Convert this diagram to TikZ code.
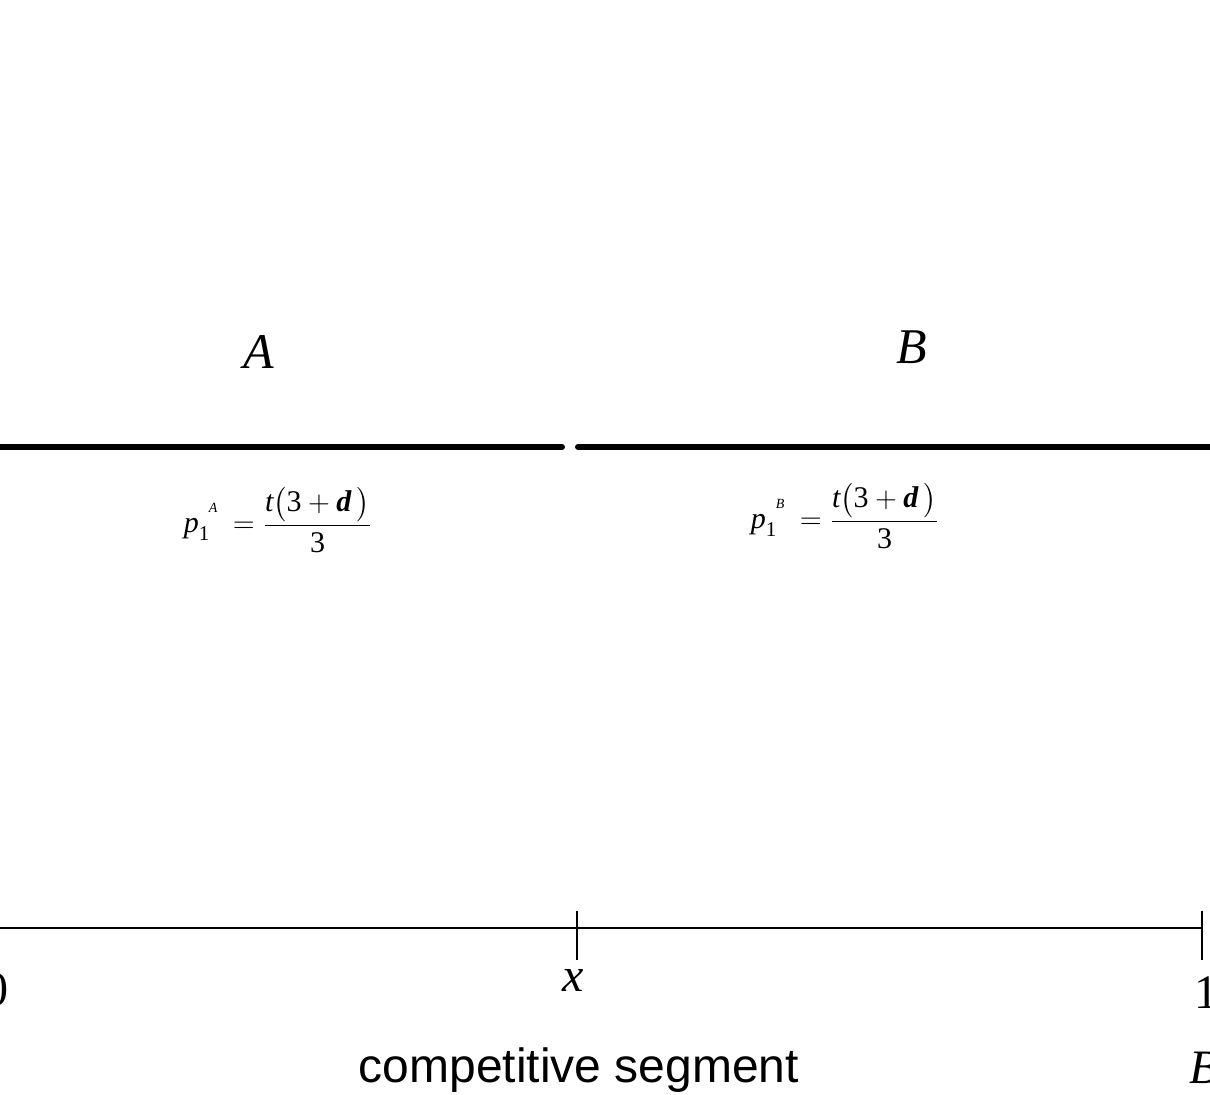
\documentclass[tikz,border=0pt]{standalone}
\usepackage{amsmath}
\usepackage{fontspec}
\setmainfont{Liberation Serif}
\setsansfont{Liberation Sans}
\tikzset{
  thick line/.style={line width=3pt, line cap=round},
  axis line/.style={line width=1pt},
  tick/.style={line width=1pt},
  biglabel/.style={font=\fontsize{25}{30}\selectfont\itshape, inner sep=0pt},
  axlabel/.style={font=\fontsize{24}{28}\selectfont, inner sep=0pt},
  formula/.style={font=\fontsize{15}{18}\selectfont, inner sep=0pt},
  caption/.style={font=\fontsize{24}{28}\selectfont\sffamily, inner sep=0pt},
}
\newcommand{\pricefrac}[1]{$\textit{p}_{\text{1}}\raisebox{1.5ex}{\hspace{-0.05em}\textit{\fontsize{7}{8}\selectfont #1}}\ = \dfrac{\textit{t}\bigl(\text{3} + \textbf{\textit{d}}\,\bigr)}{\text{3}}$}
\begin{document}
\begin{tikzpicture}[x=0.5pt,y=-0.5pt]
\useasboundingbox (0,0) rectangle (1210,1095);
\clip (0,0) rectangle (1210,1095);
% thick segments
\coordinate (aL) at (-20,447);
\coordinate (aR) at (562,447);
\coordinate (bL) at (578,447);
\coordinate (bR) at (1230,447);
\draw[thick line] (aL) -- (aR);
\draw[thick line] (bL) -- (bR);
\node[biglabel] (labA) at (259,352) {A};
\node[biglabel] (labB) at (912,347) {B};
\node[formula] (fA) at (278,520) {\pricefrac{A}};
\node[formula] (fB) at (845,516) {\pricefrac{B}};
% axis
\coordinate (o) at (-20,928);
\coordinate (xm) at (577,928);
\coordinate (one) at (1202,928);
\draw[axis line] (o) -- (one);
\draw[tick] (577,911) -- (577,960);
\draw[tick] (1202,911) -- (1202,960);
\node[axlabel] (l0) at (-3,990) {0};
\node[axlabel, font=\fontsize{24}{28}\selectfont\itshape] (lx) at (573,980) {x};
\node[axlabel] (l1) at (1206,993) {1};
\node[axlabel, font=\fontsize{24}{28}\selectfont\itshape] (lB) at (1204,1068) {B};
\node[caption] (cap) at (579,1070) {competitive segment};
\end{tikzpicture}
\end{document}
